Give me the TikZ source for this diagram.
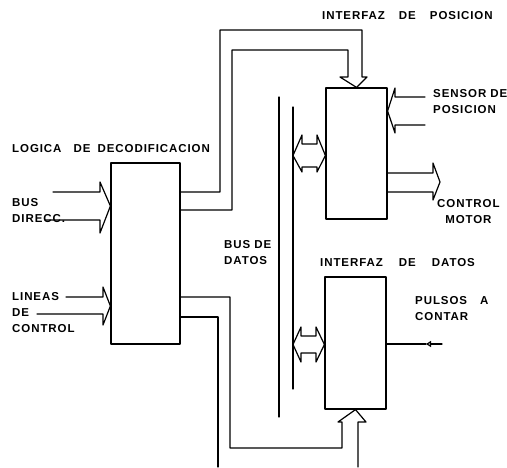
\documentclass[tikz,border=0pt]{standalone}
\usepackage{fontspec}
\setmainfont{Liberation Sans}
\newfontfamily\lblfont[LetterSpace=8,UprightFont={Liberation Sans Bold}]{Liberation Sans}
\usetikzlibrary{arrows.meta}
\tikzset{
  blk/.style={draw,line width=1.2pt,minimum width=61pt,inner sep=0pt},
  lbl/.style={anchor=north west,inner sep=0pt,align=left,
              font=\lblfont\fontsize{11.5}{16}\selectfont},
  bus/.style={line width=1.2pt},
  every picture/.style={line cap=round,line join=round}}
\begin{document}
\begin{tikzpicture}[x=1pt,y=-1pt]
  \useasboundingbox (0,0) rectangle (507,467);
  % blocks
  \node[blk,minimum width=69pt,minimum height=181pt] (dec) at (145.5,253.5){};
  \node[blk,minimum height=131pt] (pos) at (356.5,153.5){};
  \node[blk,minimum height=132pt] (dat) at (355.5,343){};
  % data bus
  \coordinate (b1t) at (279,97);\coordinate (b1b) at (279,417);
  \coordinate (b2t) at (293,107);\coordinate (b2b) at (293,389);
  \draw[bus] (b1t)--(b1b) (b2t)--(b2b);
  % address bus in
  \draw[bus] (53,192)--(100,192)--(100,182)--(dec.west|-0,206)--(100,233)--(100,220)--(45,220);
  % control lines in
  \draw[bus] (66,297)--(103,297)--(103,287)--(dec.west|-0,306)--(103,325)--(103,314)--(37,314);
  % decoder to position interface
  \draw[bus] (dec.east|-0,192)--(220,192)--(220,30)--(362,30)--(362,77)--(367,77)
    --(pos.north)--(340,77)--(348,77)--(348,50)--(232,50)--(232,210)--(dec.east|-0,210);
  % decoder to data interface
  \draw[bus] (dec.east|-0,297)--(230,297)--(230,448)--(342,448)--(342,422)--(338,422)
    --(dat.south)--(366,422)--(358,422)--(358,467);
  \draw[bus] (dec.east|-0,317)--(218,317)--(218,467);
  % bus <-> interfaces
  \draw[bus] (302,144)--(317,144)--(317,135)--(pos.west|-0,155.5)--(317,172)--(317,167)
    --(302,167)--(302,172)--(b2t|-0,155.5)--(302,135)--cycle;
  \draw[bus] (301,336)--(316,336)--(316,327)--(dat.west|-0,344.5)--(316,362)--(316,353)
    --(301,353)--(301,362)--(b2t|-0,344.5)--(301,327)--cycle;
  % position sensor in
  \draw[bus] (425,97)--(395,97)--(395,88)--(pos.east|-0,111)--(395,133)--(395,125)--(425,125);
  % motor control out
  \draw[bus] (pos.east|-0,173)--(433,173)--(433,163)--(440,182)--(433,200)--(433,192)--(pos.east|-0,192);
  % pulses in
  \coordinate (pin) at (442,344);
  \draw[bus,-{Triangle[open,length=5pt,width=6pt]}] (pin)--(426,344);
  \draw[bus] (426,344)--(dat.east|-0,344);
  % labels
  \node[lbl] (lpos) at (322,11){INTERFAZ\hspace{10pt} DE\hspace{10pt} POSICION};
  \node[lbl] (lsen) at (433,89){SENSOR DE\\POSICION};
  \node[lbl] (ldec) at (12,144){LOGICA\hspace{8pt} DE\hspace{3pt} DECODIFICACION};
  \node[lbl] (ldir) at (12,198){BUS\\DIRECC.};
  \node[lbl,align=center] (lmot) at (437,199){CONTROL\\MOTOR};
  \node[lbl] (lbus) at (224,240){BUS DE\\DATOS};
  \node[lbl] (ldat) at (320,258){INTERFAZ\hspace{12pt} DE\hspace{12pt} DATOS};
  \node[lbl] (llin) at (12,292){LINEAS\\DE\\CONTROL};
  \node[lbl] (lpul) at (415,296){PULSOS\hspace{9pt} A\\CONTAR};
\end{tikzpicture}
\end{document}
